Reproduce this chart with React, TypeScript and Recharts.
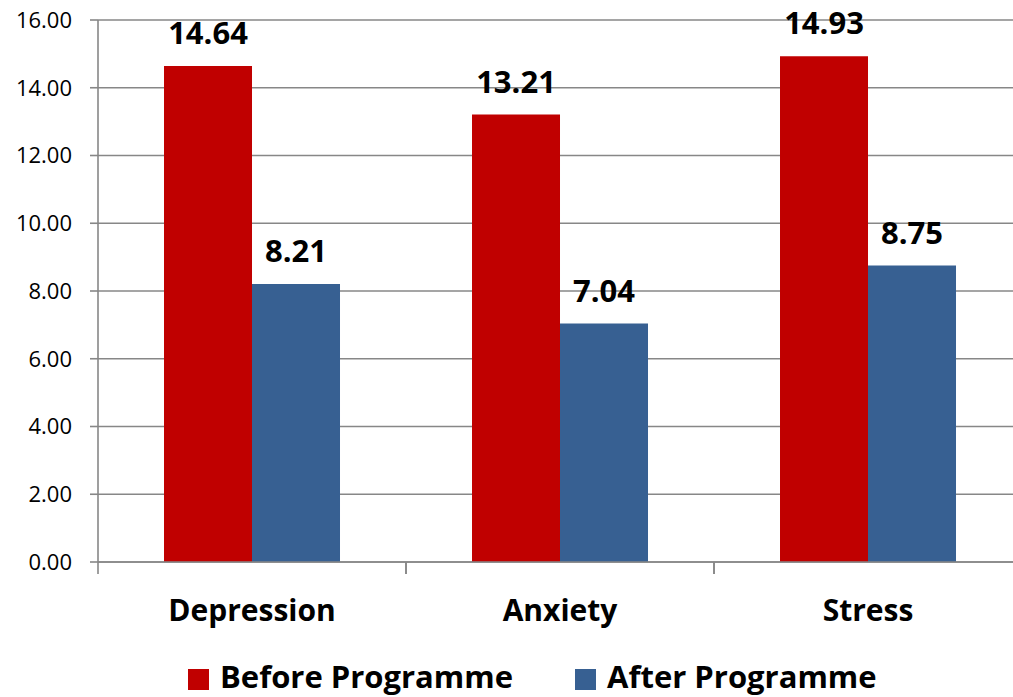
import React from "react";
import {
  BarChart,
  Bar,
  XAxis,
  YAxis,
  CartesianGrid,
  Legend,
  LabelList,
} from "recharts";

const categories = ["Depression", "Anxiety", "Stress"];
const beforeValues = [14.64, 13.21, 14.93];
const afterValues = [8.21, 7.04, 8.75];
const yTicks = [0, 2, 4, 6, 8, 10, 12, 14, 16];
const seriesNames = ["Before Programme", "After Programme"];

const data = categories.map((c, i) => ({
  name: c,
  before: beforeValues[i],
  after: afterValues[i],
}));

const FONT = "'Open Sans', 'DejaVu Sans', sans-serif";
const AXIS_GREY = "#878787";
const LABEL_GAP = 38;
const TICK_LEN = 12;

const CategoryTick = (props: any) => {
  const { x, y, payload } = props;
  const half = payload && payload.offset ? payload.offset : 0;
  const axisY = y - LABEL_GAP;
  return (
    <g>
      <line
        x1={x - half}
        x2={x - half}
        y1={axisY}
        y2={axisY + TICK_LEN}
        stroke={AXIS_GREY}
        strokeWidth={1.6}
      />
      <line
        x1={x + half}
        x2={x + half}
        y1={axisY}
        y2={axisY + TICK_LEN}
        stroke={AXIS_GREY}
        strokeWidth={1.6}
      />
      <text
        x={x}
        y={y}
        dy="0.71em"
        textAnchor="middle"
        fill="#000"
        fontSize={30}
        fontWeight={700}
        fontFamily={FONT}
      >
        {payload.value}
      </text>
    </g>
  );
};

const renderLegend = (props: any) => {
  const payload = [...(props.payload || [])].sort(
    (a: any, b: any) => seriesNames.indexOf(a.value) - seriesNames.indexOf(b.value)
  );
  return (
    <div style={{ display: "flex", fontFamily: FONT }}>
      {payload.map((entry: any, i: number) => (
        <div
          key={i}
          style={{
            display: "flex",
            alignItems: "flex-start",
            marginRight: i < payload.length - 1 ? 62 : 0,
          }}
        >
          <div
            style={{
              width: 21,
              height: 21,
              background: entry.color,
              marginTop: 11,
              marginRight: 11,
            }}
          />
          <span
            style={{
              fontSize: 31,
              fontWeight: 700,
              lineHeight: "36px",
              color: "#000",
              whiteSpace: "nowrap",
            }}
          >
            {entry.value}
          </span>
        </div>
      ))}
    </div>
  );
};

export default function App() {
  return (
    <div
      style={{
        position: "fixed",
        left: 0,
        top: 0,
        width: 1013,
        height: 697,
        overflow: "hidden",
        background: "#fff",
      }}
    >
      <BarChart
        width={1030}
        height={697}
        data={data}
        margin={{ top: 20, right: 8, left: 0, bottom: 75 }}
        barCategoryGap="21.43%"
        barGap={0}
        style={{ fontFamily: FONT }}
      >
        <CartesianGrid
          vertical={false}
          stroke={AXIS_GREY}
          strokeWidth={1.6}
        />
        <XAxis
          dataKey="name"
          height={60}
          axisLine={{ stroke: AXIS_GREY, strokeWidth: 1.6 }}
          tickLine={false}
          tickSize={0}
          tickMargin={LABEL_GAP}
          interval={0}
          tick={<CategoryTick />}
        />
        <YAxis
          width={98}
          domain={[0, 16]}
          ticks={yTicks}
          interval={0}
          tickFormatter={(v: number) => v.toFixed(2)}
          tickSize={8}
          tickMargin={18}
          axisLine={{ stroke: AXIS_GREY, strokeWidth: 1.6 }}
          tickLine={{ stroke: AXIS_GREY, strokeWidth: 1.6 }}
          tick={{ fill: "#000", fontSize: 22, fontFamily: FONT }}
        />
        <Legend
          layout="horizontal"
          align="center"
          verticalAlign="middle"
          wrapperStyle={{ left: 188, top: 658, width: "auto" }}
          content={renderLegend}
        />
        <Bar
          dataKey="before"
          name={seriesNames[0]}
          fill="#C00000"
          isAnimationActive={false}
        >
          <LabelList
            dataKey="before"
            position="top"
            offset={22}
            formatter={(v: any) => Number(v).toFixed(2)}
            style={{ fill: "#000", fontSize: 31, fontWeight: 700, fontFamily: FONT }}
          />
        </Bar>
        <Bar
          dataKey="after"
          name={seriesNames[1]}
          fill="#376092"
          isAnimationActive={false}
        >
          <LabelList
            dataKey="after"
            position="top"
            offset={22}
            formatter={(v: any) => Number(v).toFixed(2)}
            style={{ fill: "#000", fontSize: 31, fontWeight: 700, fontFamily: FONT }}
          />
        </Bar>
      </BarChart>
    </div>
  );
}
